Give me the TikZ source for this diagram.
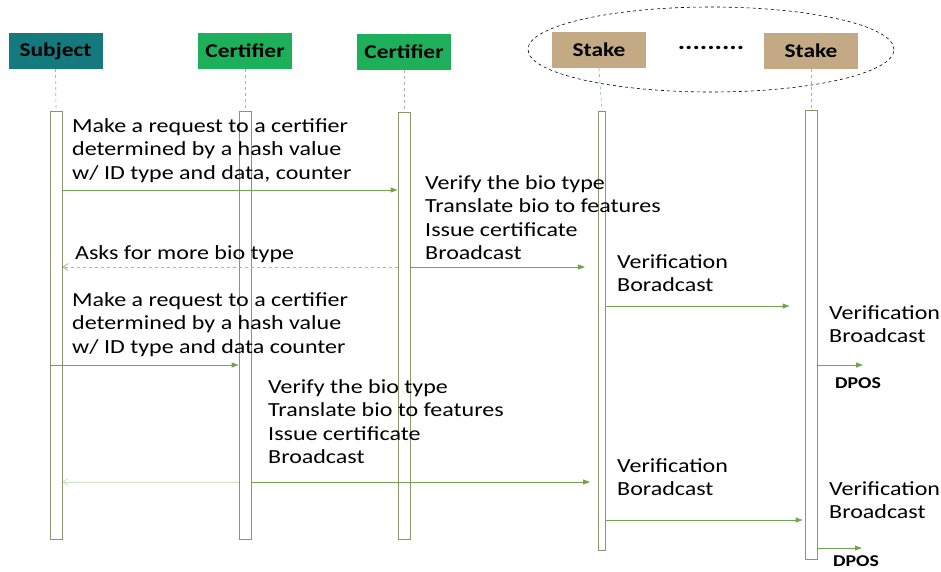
\documentclass[tikz,border=0pt]{standalone}
\usepackage{fontspec}
\setmainfont{Carlito}[FakeStretch=1.2]
\usetikzlibrary{arrows.meta,shapes.geometric}
\definecolor{subj}{RGB}{20,122,126}
\definecolor{cert}{RGB}{30,175,90}
\definecolor{stk}{RGB}{196,170,132}
\definecolor{msgc}{RGB}{112,165,80}
\definecolor{actc}{RGB}{140,150,110}
\definecolor{lifec}{RGB}{165,175,190}
\tikzset{
  hdr/.style={draw=none,minimum width=94pt,minimum height=36pt,inner sep=0pt,font=\fontsize{19.5}{22}\selectfont\bfseries},
  actbox/.style={draw=actc,line width=0.8pt,fill=white,inner sep=0pt,minimum width=#1},
  life/.style={draw=lifec,dashed,line width=0.7pt},
  msg/.style={draw=msgc,line width=0.9pt,-{Triangle[length=7pt,width=5pt]}},
  ret/.style={draw=msgc!70,line width=0.8pt,dashed,-{Straight Barb[length=5pt,width=7pt]}},
  faint/.style={draw=msgc!35,line width=0.8pt,-{Straight Barb[length=5pt,width=7pt]}},
  txt/.style={anchor=north west,inner sep=0pt,align=left,font=\fontsize{20}{23.5}\selectfont},
  dpos/.style={inner sep=0pt,font=\fontsize{16.5}{18}\selectfont\bfseries}
}
\begin{document}
\begin{tikzpicture}[x=1pt,y=-1pt]
\useasboundingbox (0,0) rectangle (941,572);
% headers
\node[hdr,fill=subj] (subj) at (55.5,51) {Subject};
\node[hdr,fill=cert] (cert1) at (245,51) {Certifier};
\node[hdr,fill=cert] (cert2) at (404,52) {Certifier};
\node[draw,dashed,ellipse,line width=0.6pt,minimum width=366pt,minimum height=85pt] (grp) at (711,49.5) {};
\node[hdr,fill=stk] (stk1) at (599,50) {Stake};
\node[hdr,fill=stk] (stk2) at (811,51) {Stake};
\node[inner sep=0pt,font=\fontsize{23}{24}\selectfont\bfseries] (dots) at (711,48) {.........};
% activation boxes
\node[actbox=12pt,minimum height=428pt,anchor=north] (sA) at (56,111) {};
\node[actbox=12pt,minimum height=428pt,anchor=north] (c1A) at (245,111) {};
\node[actbox=12pt,minimum height=427pt,anchor=north] (c2A) at (404,112) {};
\node[actbox=7pt,minimum height=439pt,anchor=north] (s1A) at (602,111) {};
\node[actbox=12pt,minimum height=449pt,anchor=north] (s2A) at (811,110) {};
% lifelines
\draw[life] (subj.south) -- (sA.north);
\draw[life] (cert1.south) -- (c1A.north);
\draw[life] (cert2.south) -- (c2A.north);
\draw[life] (stk1.south) -- (s1A.north);
\draw[life] (stk2.south) -- (s2A.north);
% y levels
\coordinate (y1) at (0,190);
\coordinate (y2) at (0,267);
\coordinate (y4) at (0,306);
\coordinate (y5) at (0,365);
\coordinate (y7) at (0,482);
\coordinate (y8) at (0,520);
\coordinate (y9) at (0,548);
\coordinate (d1) at (863,365);
\coordinate (d2) at (862,548);
% texts
\node[txt] (t1) at (72,118) {Make a request to a certifier\\determined by a hash value\\w/ ID type and data, counter};
\node[txt] (t2) at (425,175) {Verify the bio type\\Translate bio to features\\Issue certificate\\Broadcast};
\node[txt] (t3) at (75,245) {Asks for more bio type};
\node[txt] (t4) at (617,254) {Verification\\Boradcast};
\node[txt] (t5) at (829,305) {Verification\\Broadcast};
\node[dpos] (dp1) at (858,383) {DPOS};
\node[txt] (t6) at (72,292) {Make a request to a certifier\\determined by a hash value\\w/ ID type and data counter};
\node[txt] (t7) at (268,379) {Verify the bio type\\Translate bio to features\\Issue certificate\\Broadcast};
\node[txt] (t8) at (617,458) {Verification\\Boradcast};
\node[txt] (t9) at (829,481) {Verification\\Broadcast};
\node[dpos] (dp2) at (856,561) {DPOS};
% messages
\draw[msg] (sA.east |- y1) -- (c2A.west |- y1);
\draw[msg,shorten >=13pt] (c2A.east |- y2) -- (s1A.west |- y2);
\draw[ret] (c2A.west |- y2) -- (sA.east |- y2);
\draw[msg,shorten >=15pt] (s1A.east |- y4) -- (s2A.west |- y4);
\draw[msg] (s2A.east |- y5) -- (d1);
\draw[msg] (sA.west |- y5) -- (c1A.west |- y5);
\draw[faint] (c1A.west |- y7) -- (sA.east |- y7);
\draw[msg,shorten >=8pt] (c1A.east |- y7) -- (s1A.west |- y7);
\draw[msg,shorten >=2pt] (s1A.east |- y8) -- (s2A.west |- y8);
\draw[msg] (s2A.east |- y9) -- (d2);
\end{tikzpicture}
\end{document}
